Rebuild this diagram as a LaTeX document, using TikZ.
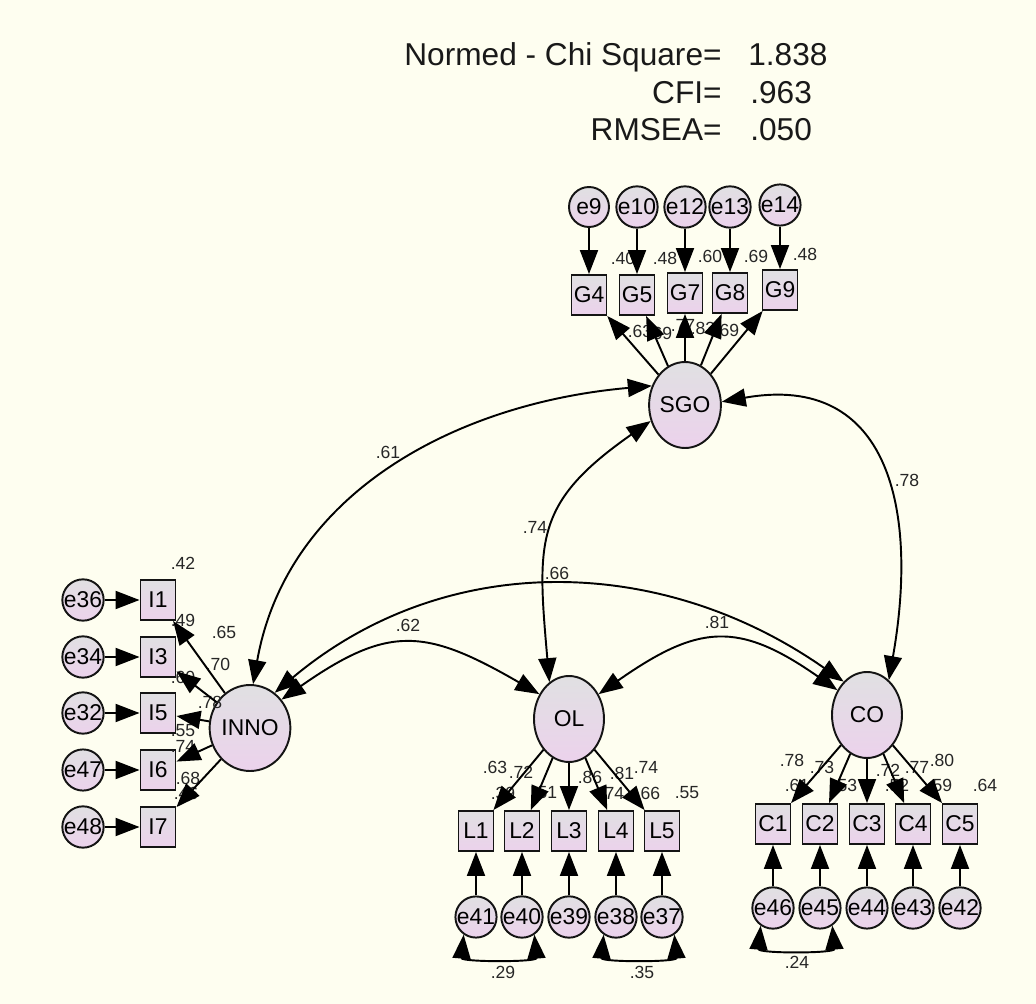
\documentclass[tikz,border=0pt]{standalone}
\usepackage{fontspec}
\setmainfont{Liberation Sans}
\usetikzlibrary{arrows.meta,shapes.geometric}
\definecolor{cream}{RGB}{254,254,240}
\definecolor{shadetop}{RGB}{224,224,226}
\definecolor{shadebot}{RGB}{236,210,236}
\definecolor{rim}{RGB}{20,20,20}
\tikzset{
  >={Triangle[length=4.8mm,width=3.6mm]},
  latent/.style={ellipse,draw=rim,line width=1.1pt,top color=shadetop,bottom color=shadebot,
    minimum width=14mm,minimum height=17.2mm,inner sep=0pt,font=\fontsize{13}{15}\selectfont},
  obs/.style={rectangle,draw=rim,line width=1.1pt,top color=shadetop,bottom color=shadebot,
    minimum width=7mm,minimum height=8mm,inner sep=0pt,font=\fontsize{13}{15}\selectfont},
  err/.style={circle,draw=rim,line width=1.1pt,top color=shadetop,bottom color=shadebot,
    minimum size=8mm,inner sep=0pt,font=\fontsize{13}{15}\selectfont},
  load/.style={->,line width=1.1pt},
  cov/.style={<->,line width=1.1pt},
  num/.style={inner sep=0pt,font=\fontsize{10}{12}\selectfont,text=black!85},
  stat/.style={inner sep=0pt,font=\fontsize{18}{20}\selectfont,text=black!90},
}

\begin{document}
\begin{tikzpicture}[x=0.02cm,y=-0.02cm]
\fill[cream] (0,0) rectangle (1036,1004);
\useasboundingbox (0,0) rectangle (1036,1004);

% fit indices
\node[stat,anchor=base east] (chi) at (722,66) {Normed - Chi Square=};
\node[stat,anchor=base west] (chiv) at (748,66) {1.838};
\node[stat,anchor=base east] (cfi) at (722,103) {CFI=};
\node[stat,anchor=base west] (cfiv) at (750,103) {.963};
\node[stat,anchor=base east] (rmsea) at (722,140) {RMSEA=};
\node[stat,anchor=base west] (rmseav) at (750,140) {.050};

% latent factors
\node[latent] (SGO) at (685,405) {SGO};
\node[latent] (INNO) at (250,728) {INNO};
\node[latent] (OL) at (569,719) {OL};
\node[latent] (CO) at (867,715) {CO};

% indicators with their errors
\foreach \b/\e/\x/\y/\ey in {G4/e9/589/295/207,G5/e10/637/295/207,
    G7/e12/685/293/207,G8/e13/730/293/207,G9/e14/780/290/205}{
  \node[obs] (\b) at (\x,\y) {\b};
  \node[err] (\e) at (\x,\ey) {\e};
}
\foreach \b/\e/\y in {I1/e36/600,I3/e34/657,I5/e32/713,I6/e47/770,I7/e48/827}{
  \node[obs] (\b) at (158,\y) {\b};
  \node[err] (\e) at (83,\y) {\e};
}
\foreach \b/\e/\x in {L1/e41/476,L2/e40/522,L3/e39/569,L4/e38/616,L5/e37/662}{
  \node[obs] (\b) at (\x,831) {\b};
  \node[err] (\e) at (\x,917) {\e};
}
\foreach \b/\e/\x in {C1/e46/773,C2/e45/820,C3/e44/867,C4/e43/913,C5/e42/960}{
  \node[obs] (\b) at (\x,824) {\b};
  \node[err] (\e) at (\x,908) {\e};
}

% estimates
\foreach \n/\t/\x/\y in {rG4/.40/623/258,rG5/.48/665/258,rG7/.60/710/256,rG8/.69/756/256,rG9/.48/805/254,
    lG4/.63/640/331,lG5/.69/660/333,lG7/.77/683/325,lG8/.83/703/328,lG9/.69/727/330,
    rI1/.42/183/563,rI3/.49/183/620,rI5/.60/183/677,rI6/.55/183/731,rI7/.46/186/793,
    lI1/.65/224/632,lI3/.70/218/664,lI5/.78/210/702,lI6/.74/183/746,lI7/.68/188/778,
    lL1/.63/495/767,lL2/.72/521/772,lL3/.86/590/777,lL4/.81/622/773,lL5/.74/646/767,
    rL1/.39/503/793,rL2/.51/545/793,rL3/.74/612/793,rL4/.66/648/793,rL5/.55/687/793,
    lC1/.78/792/760,lC2/.73/822/767,lC3/.72/888/770,lC4/.77/917/767,lC5/.80/942/760,
    rC1/.61/797/785,rC2/.53/845/785,rC3/.52/897/785,rC4/.59/940/785,rC5/.64/985/785,
    cIS/.61/388/452,cOS/.74/535/527,cCS/.78/907/480,cIC/.66/557/573,cIO/.62/408/625,cOC/.81/717/622,
    cL1/.29/503/972,cL4/.35/642/972,cC1/.24/797/962}
  \node[num] (\n) at (\x,\y) {\t};

% loadings
\foreach \b in {G4,G5,G7,G8,G9} \draw[load] (SGO) -- (\b);
\foreach \b in {I1,I3,I5,I6,I7} \draw[load] (INNO) -- (\b);
\foreach \b in {L1,L2,L3,L4,L5} \draw[load] (OL) -- (\b);
\foreach \b in {C1,C2,C3,C4,C5} \draw[load] (CO) -- (\b);

% error terms
\foreach \e/\b in {e9/G4,e10/G5,e12/G7,e13/G8,e14/G9,e36/I1,e34/I3,e32/I5,e47/I6,e48/I7,
    e41/L1,e40/L2,e39/L3,e38/L4,e37/L5,e46/C1,e45/C2,e44/C3,e43/C4,e42/C5}
  \draw[load] (\e) -- (\b);

% correlations
\draw[cov] (INNO.86) to[out=80,in=185] (SGO.150);
\draw[cov] (OL.118) to[out=95,in=215,looseness=1.3] (SGO.205);
\draw[cov] (SGO.5) to[out=10,in=80,looseness=1.35] (CO.58);
\draw[cov] (INNO.55) to[out=40,in=145] (CO.125);
\draw[cov] (INNO.42) to[out=35,in=150,looseness=1.3] (OL.140);
\draw[cov] (OL.40) to[out=35,in=145,looseness=1.3] (CO.140);
\draw[cov] (e41.235) to[out=-95,in=-85] (e40.305);
\draw[cov] (e38.235) to[out=-95,in=-85] (e37.305);
\draw[cov] (e46.235) to[out=-95,in=-85] (e45.305);
\end{tikzpicture}
\end{document}
